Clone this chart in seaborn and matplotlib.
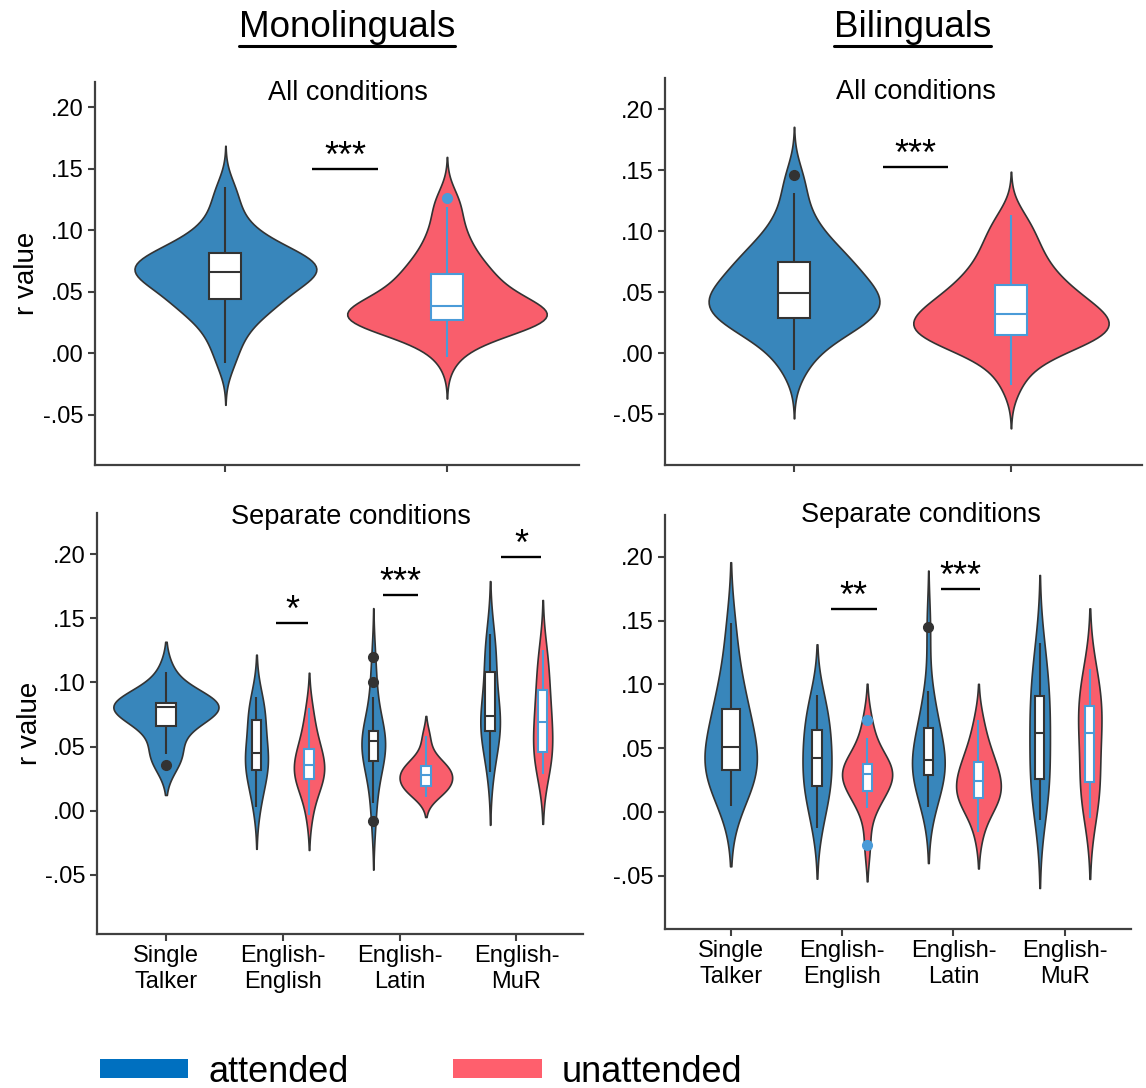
import numpy as np
import pandas as pd
import matplotlib
matplotlib.use("Agg")
import matplotlib.pyplot as plt
from matplotlib.patches import Patch
from matplotlib.lines import Line2D
import seaborn as sns

# ------------------------------------------------------------------ data
conditions = ["Single Talker", "English-English", "English-Latin", "English-MuR"]
condition_labels = ["Single\nTalker", "English-\nEnglish", "English-\nLatin", "English-\nMuR"]
streams = ["attended", "unattended"]
group_titles = ["Monolinguals", "Bilinguals"]
y_ticks = [-0.05, 0.0, 0.05, 0.10, 0.15, 0.20]
y_tick_labels = ["-.05", ".00", ".05", ".10", ".15", ".20"]

mono_all_attended = [-0.008, 0.005, 0.015, 0.022, 0.028, 0.033, 0.037, 0.040, 0.042, 0.043,
                     0.045, 0.049, 0.052, 0.055, 0.058, 0.060, 0.062, 0.064, 0.065, 0.066,
                     0.067, 0.068, 0.069, 0.070, 0.071, 0.072, 0.074, 0.076, 0.078, 0.081,
                     0.082, 0.084, 0.086, 0.089, 0.093, 0.098, 0.104, 0.112, 0.124, 0.135]
mono_all_unattended = [-0.003, 0.008, 0.014, 0.018, 0.021, 0.023, 0.024, 0.025, 0.026, 0.0265,
                       0.027, 0.028, 0.029, 0.030, 0.031, 0.032, 0.033, 0.034, 0.036, 0.038,
                       0.039, 0.041, 0.043, 0.045, 0.048, 0.051, 0.054, 0.057, 0.060, 0.064,
                       0.066, 0.069, 0.073, 0.078, 0.084, 0.090, 0.097, 0.106, 0.119, 0.126]
bi_all_attended = [-0.014, -0.002, 0.006, 0.012, 0.017, 0.021, 0.023, 0.025, 0.027, 0.028,
                   0.029, 0.033, 0.035, 0.037, 0.039, 0.041, 0.043, 0.045, 0.047, 0.048,
                   0.050, 0.052, 0.054, 0.057, 0.060, 0.063, 0.066, 0.069, 0.072, 0.074,
                   0.077, 0.080, 0.084, 0.088, 0.093, 0.099, 0.106, 0.116, 0.131, 0.146]
bi_all_unattended = [-0.026, -0.012, -0.004, 0.002, 0.006, 0.009, 0.011, 0.012, 0.013, 0.014,
                     0.015, 0.017, 0.019, 0.021, 0.023, 0.025, 0.026, 0.028, 0.030, 0.031,
                     0.033, 0.035, 0.037, 0.039, 0.042, 0.044, 0.047, 0.050, 0.053, 0.055,
                     0.059, 0.063, 0.067, 0.072, 0.077, 0.083, 0.089, 0.096, 0.104, 0.113]

# separate conditions, monolinguals
mono_st_attended = [0.036, 0.044, 0.047, 0.065, 0.0665, 0.074, 0.078, 0.080,
                    0.081, 0.082, 0.083, 0.0835, 0.084, 0.086, 0.092, 0.108]
mono_ee_attended = [0.003, 0.015, 0.025, 0.030, 0.033, 0.037, 0.042, 0.045,
                    0.049, 0.055, 0.068, 0.074, 0.077, 0.081, 0.089]
mono_ee_unattended = [-0.003, 0.012, 0.020, 0.024, 0.026, 0.028, 0.031, 0.036,
                      0.039, 0.042, 0.046, 0.051, 0.058, 0.068, 0.080]
mono_el_attended = [-0.008, 0.006, 0.025, 0.035, 0.038, 0.040, 0.045, 0.050, 0.053,
                    0.055, 0.057, 0.059, 0.061, 0.063, 0.070, 0.089, 0.100, 0.120]
mono_el_unattended = [0.011, 0.015, 0.017, 0.018, 0.020, 0.023, 0.026, 0.0275,
                      0.029, 0.031, 0.034, 0.036, 0.037, 0.045, 0.058]
mono_em_attended = [0.030, 0.045, 0.055, 0.061, 0.064, 0.067, 0.071, 0.074,
                    0.080, 0.088, 0.102, 0.114, 0.120, 0.130, 0.138]
mono_em_unattended = [0.029, 0.036, 0.041, 0.044, 0.047, 0.055, 0.062, 0.069,
                      0.074, 0.080, 0.089, 0.099, 0.108, 0.117, 0.125]

# separate conditions, bilinguals
bi_st_attended = [0.005, 0.015, 0.022, 0.028, 0.032, 0.035, 0.038, 0.041, 0.046,
                  0.056, 0.062, 0.068, 0.075, 0.083, 0.092, 0.104, 0.122, 0.148]
bi_ee_attended = [-0.013, 0.002, 0.012, 0.018, 0.022, 0.028, 0.036, 0.042,
                  0.048, 0.054, 0.061, 0.068, 0.075, 0.083, 0.092]
bi_ee_unattended = [-0.026, 0.003, 0.010, 0.015, 0.017, 0.025, 0.028, 0.029,
                    0.030, 0.032, 0.034, 0.037, 0.040, 0.046, 0.058, 0.072]
bi_el_attended = [0.004, 0.013, 0.022, 0.027, 0.030, 0.033, 0.037, 0.040,
                  0.042, 0.047, 0.055, 0.065, 0.069, 0.078, 0.095, 0.145]
bi_el_unattended = [-0.016, 0.002, 0.007, 0.009, 0.011, 0.013, 0.018, 0.023,
                    0.025, 0.029, 0.032, 0.038, 0.043, 0.048, 0.058, 0.072]
bi_em_attended = [-0.006, 0.008, 0.018, 0.024, 0.028, 0.041, 0.052, 0.062,
                  0.070, 0.078, 0.087, 0.095, 0.106, 0.118, 0.132]
bi_em_unattended = [-0.005, 0.006, 0.015, 0.021, 0.026, 0.038, 0.050, 0.062,
                    0.068, 0.073, 0.079, 0.087, 0.095, 0.104, 0.112]

# significance brackets: (x start, x end, y, label)
sig_mono_all = [(0.39, 0.69, 0.150, "***")]
sig_bi_all = [(0.41, 0.71, 0.153, "***")]
sig_mono_sep = [(0.94, 1.22, 0.1465, "*"), (1.86, 2.16, 0.168, "***"), (2.87, 3.21, 0.198, "*")]
sig_bi_sep = [(0.90, 1.31, 0.159, "**"), (1.89, 2.24, 0.175, "***")]

# ------------------------------------------------------------------ style
BLUE = "#3886BB"
RED = "#F95E6C"
EDGE = "#333333"
LIGHTBLUE = "#4A9BD8"
LEG_BLUE = "#0070C0"
LEG_RED = "#FF5F6D"
violin_pal = {"attended": BLUE, "unattended": RED}
box_line = {"attended": EDGE, "unattended": LIGHTBLUE}
white_pal = {"attended": "white", "unattended": "white"}

sns.set_style("ticks")
plt.rcParams["font.family"] = ["Liberation Sans", "DejaVu Sans"]
plt.rcParams["text.color"] = "black"
plt.rcParams["axes.labelcolor"] = "black"
plt.rcParams["axes.edgecolor"] = "#404040"
plt.rcParams["axes.linewidth"] = 1.6
plt.rcParams["xtick.color"] = "#404040"
plt.rcParams["ytick.color"] = "#404040"
plt.rcParams["xtick.labelcolor"] = "black"
plt.rcParams["ytick.labelcolor"] = "black"

fig = plt.figure(figsize=(11.46, 10.88), dpi=100)

W, H = 1146.0, 1088.0
def px_axes(l, r, t, b):
    return fig.add_axes([l / W, 1 - b / H, (r - l) / W, (b - t) / H])

ax_tl = px_axes(94.5, 579, 82, 465)
ax_tr = px_axes(664.5, 1142, 78, 465)
ax_bl = px_axes(97, 583, 513, 934)
ax_br = px_axes(665, 1131, 515, 929)

BOX_KW = dict(showcaps=False, linewidth=1.5, fliersize=7)


def style_axis(ax, ylim, xlim):
    ax.set_ylim(*ylim)
    ax.set_xlim(*xlim)
    ax.set_yticks(y_ticks)
    ax.set_yticklabels(y_tick_labels, fontsize=17)
    ax.tick_params(axis="both", length=5, width=1.5, pad=3)
    sns.despine(ax=ax)
    ax.set_xlabel("")
    ax.set_ylabel("")


def add_sig(ax, sigs):
    for x0, x1, y, lab in sigs:
        ax.plot([x0, x1], [y, y], color="black", lw=1.7, solid_capstyle="butt")
        ax.text((x0 + x1) / 2, y + 0.0015, lab, ha="center", va="baseline", fontsize=26,
                color="black")


def top_panel(ax, att, unatt, ylim, xlim, sigs, title_xy):
    df = pd.DataFrame({"stream": ["attended"] * len(att) + ["unattended"] * len(unatt),
                       "r": att + unatt})
    sns.violinplot(data=df, x="stream", y="r", hue="stream", order=streams, hue_order=streams,
                   palette=violin_pal, saturation=1, inner=None, width=0.9, dodge=False,
                   density_norm="area", common_norm=True, cut=2.6, bw_adjust=0.9,
                   linewidth=1.2, linecolor=EDGE, legend=False, ax=ax)
    for s in streams:
        sub = df[df["stream"] == s]
        lc = box_line[s]
        sns.boxplot(data=sub, x="stream", y="r", order=streams, color="white", saturation=1,
                    linecolor=lc, width=0.145,
                    flierprops=dict(marker="o", markerfacecolor=lc, markeredgecolor=lc),
                    ax=ax, **BOX_KW)
    style_axis(ax, ylim, xlim)
    ax.set_xticks([0, 1])
    ax.set_xticklabels(["", ""])
    add_sig(ax, sigs)
    ax.text(title_xy[0], title_xy[1], "All conditions", transform=ax.transAxes,
            ha="center", va="center", fontsize=19.5, color="black")


def bottom_panel(ax, series, st_width, ylim, xlim, sigs, title_xy):
    rows = []
    for (cond, stream), vals in series.items():
        for v in vals:
            rows.append((cond, stream, v))
    df = pd.DataFrame(rows, columns=["cond", "stream", "r"])
    st = df[df["cond"] == conditions[0]]
    pair = df[df["cond"] != conditions[0]]
    sns.violinplot(data=st, x="cond", y="r", order=conditions, color=BLUE, saturation=1,
                   inner=None, width=st_width, density_norm="area", cut=2, bw_adjust=1.1,
                   linewidth=1.2, linecolor=EDGE, ax=ax)
    sns.violinplot(data=pair, x="cond", y="r", hue="stream", order=conditions, hue_order=streams,
                   palette=violin_pal, saturation=1, inner=None, width=0.9, dodge=True,
                   density_norm="area", common_norm=True, cut=2, bw_adjust=1.1,
                   linewidth=1.2, linecolor=EDGE, legend=False, ax=ax)
    sns.boxplot(data=st, x="cond", y="r", order=conditions, color="white", saturation=1,
                linecolor=EDGE, width=0.165,
                flierprops=dict(marker="o", markerfacecolor=EDGE, markeredgecolor=EDGE),
                ax=ax, **BOX_KW)
    for s in streams:
        sub = pair[pair["stream"] == s]
        lc = box_line[s]
        sns.boxplot(data=sub, x="cond", y="r", hue="stream", order=conditions, hue_order=streams,
                    palette=white_pal, saturation=1, linecolor=lc, width=0.9, gap=0.82,
                    dodge=True, legend=False,
                    flierprops=dict(marker="o", markerfacecolor=lc, markeredgecolor=lc),
                    ax=ax, **BOX_KW)
    style_axis(ax, ylim, xlim)
    ax.set_xticks(range(len(conditions)))
    ax.set_xticklabels(condition_labels, fontsize=17)
    add_sig(ax, sigs)
    ax.text(title_xy[0], title_xy[1], "Separate conditions", transform=ax.transAxes,
            ha="center", va="center", fontsize=19.5, color="black")


top_panel(ax_tl, mono_all_attended, mono_all_unattended, (-0.0907, 0.2206), (-0.591, 1.596),
          sig_mono_all, (0.523, 0.971))
top_panel(ax_tr, bi_all_attended, bi_all_unattended, (-0.0919, 0.2257), (-0.597, 1.604),
          sig_bi_all, (0.526, 0.965))

mono_sep = {
    (conditions[0], "attended"): mono_st_attended,
    (conditions[1], "attended"): mono_ee_attended,
    (conditions[1], "unattended"): mono_ee_unattended,
    (conditions[2], "attended"): mono_el_attended,
    (conditions[2], "unattended"): mono_el_unattended,
    (conditions[3], "attended"): mono_em_attended,
    (conditions[3], "unattended"): mono_em_unattended,
}
bi_sep = {
    (conditions[0], "attended"): bi_st_attended,
    (conditions[1], "attended"): bi_ee_attended,
    (conditions[1], "unattended"): bi_ee_unattended,
    (conditions[2], "attended"): bi_el_attended,
    (conditions[2], "unattended"): bi_el_unattended,
    (conditions[3], "attended"): bi_em_attended,
    (conditions[3], "unattended"): bi_em_unattended,
}
bottom_panel(ax_bl, mono_sep, 0.9, (-0.096, 0.232), (-0.59, 3.57), sig_mono_sep, (0.522, 0.99))
bottom_panel(ax_br, bi_sep, 0.47, (-0.0918, 0.2327), (-0.59, 3.595), sig_bi_sep, (0.55, 1.0))

for ax in (ax_tl, ax_bl):
    ax.set_ylabel("r value", fontsize=20, labelpad=2, color="black")

# group titles with underline
fig.canvas.draw()
renderer = fig.canvas.get_renderer()
for label, xc in zip(group_titles, [347 / W, 912.5 / W]):
    t = fig.text(xc, 1 - 36.7 / H, label, ha="center", va="baseline", fontsize=26.5,
                 color="black")
    bb = t.get_window_extent(renderer=renderer).transformed(fig.transFigure.inverted())
    fig.add_artist(Line2D([bb.x0, bb.x1], [1 - 45.5 / H] * 2, color="black", lw=2.2,
                          transform=fig.transFigure))

handles = [Patch(facecolor=LEG_BLUE, edgecolor="none"), Patch(facecolor=LEG_RED, edgecolor="none")]
leg = fig.legend(handles, streams, loc="center", bbox_to_anchor=(421 / W, 1 - 1072 / H), ncol=2,
                 frameon=False, fontsize=26, handlelength=2.45, handleheight=0.4,
                 columnspacing=2.9, handletextpad=0.55, borderpad=0, borderaxespad=0)
for txt in leg.get_texts():
    txt.set_color("black")

fig.savefig("out.png", dpi=100)
